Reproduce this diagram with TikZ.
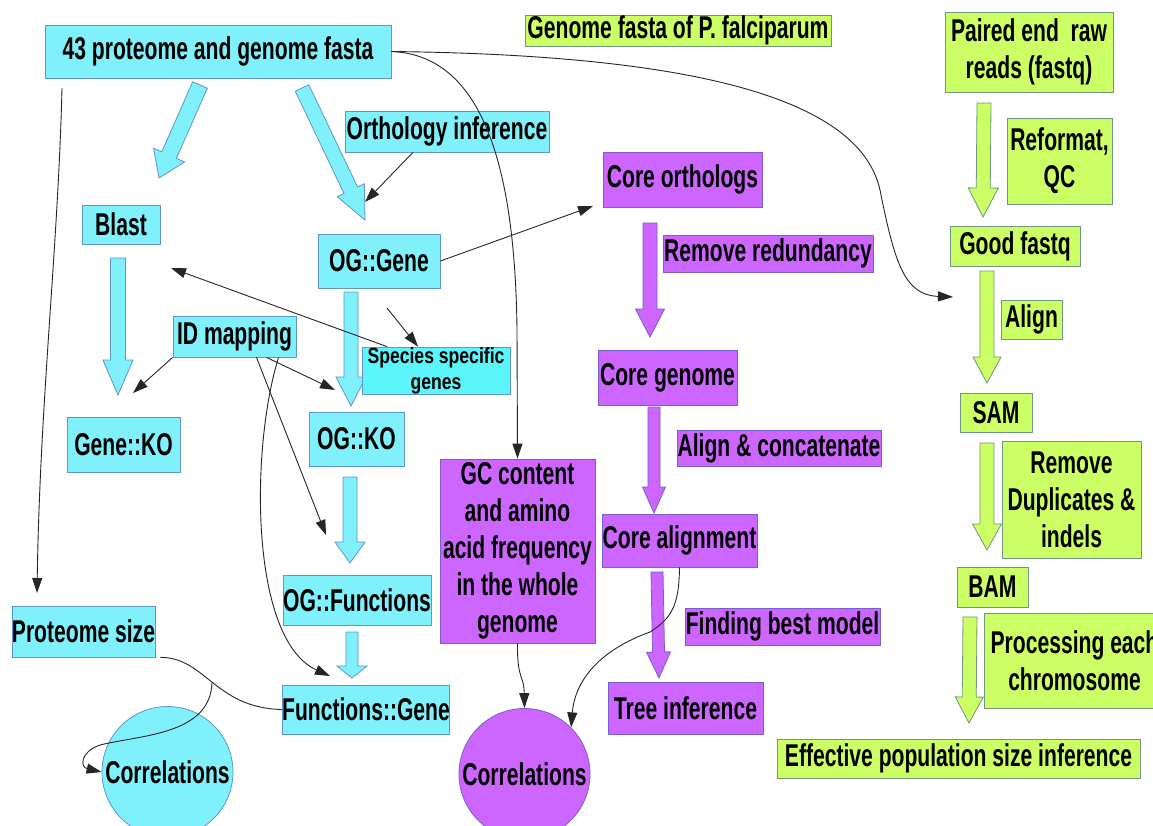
\documentclass[tikz,border=0pt]{standalone}
\usepackage{fontspec}
\setmainfont{Liberation Sans}[FakeStretch=0.67]
\newfontfamily\specfont{Liberation Sans}[FakeStretch=0.8]
\usetikzlibrary{calc,arrows.meta}
\definecolor{cyanfill}{RGB}{128,240,250}
\definecolor{cyanline}{RGB}{95,150,205}
\definecolor{specfill}{RGB}{92,246,250}
\definecolor{purpfill}{RGB}{204,102,255}
\definecolor{purpline}{RGB}{120,95,205}
\definecolor{grnfill}{RGB}{204,255,102}
\definecolor{grnline}{RGB}{110,150,130}
\newcommand{\blockarr}[6]{%
  \coordinate (ba-s) at #1; \coordinate (ba-t) at #2;
  \coordinate (ba-h) at ($(ba-t)!#5!(ba-s)$);
  \draw[#6] ($(ba-s)!#3!90:(ba-t)$) -- ($(ba-h)!#3!90:(ba-t)$) -- ($(ba-h)!#4!90:(ba-t)$) -- (ba-t)
    -- ($(ba-h)!#4!-90:(ba-t)$) -- ($(ba-h)!#3!-90:(ba-t)$) -- ($(ba-s)!#3!-90:(ba-t)$) -- cycle;
}
\tikzset{
  boxbase/.style={rectangle, inner sep=0pt, align=center, line width=0.8pt},
  cbox/.style={boxbase, draw=cyanline, fill=cyanfill},
  sbox/.style={boxbase, draw=cyanline, fill=specfill},
  pbox/.style={boxbase, draw=purpline, fill=purpfill},
  gbox/.style={boxbase, draw=grnline, fill=grnfill},
  cblk/.style={fill=cyanfill, draw=cyanline, line width=0.8pt},
  pblk/.style={fill=purpfill, draw=purpline, line width=0.8pt},
  gblk/.style={fill=grnfill, draw=grnline, line width=0.8pt},
  plainline/.style={line width=0.9pt, black!85},
  conn/.style={plainline, -{Triangle[length=15pt,width=10pt]}},
  sz/.style 2 args={minimum width=#1pt, minimum height=#2pt},
}
\begin{document}
\begin{tikzpicture}[x=1pt,y=-1pt,font=\fontsize{31.5}{37}\selectfont\bfseries]
\useasboundingbox (0,0) rectangle (1153,825);
\clip (0,0) rectangle (1153,825);
\fill[white] (0,0) rectangle (1153,825);

% block arrows
\blockarr{(200,85)}{(159,178)}{8pt}{17pt}{25pt}{cblk}
\blockarr{(302,88)}{(365,220)}{7.5pt}{15pt}{33pt}{cblk}
\blockarr{(118,258)}{(118,395)}{7.5pt}{15pt}{35pt}{cblk}
\blockarr{(351,292)}{(351,406)}{7pt}{15pt}{29pt}{cblk}
\blockarr{(350,477)}{(350,563)}{7pt}{15pt}{21pt}{cblk}
\blockarr{(352,632)}{(352,678)}{6pt}{15pt}{12pt}{cblk}
\blockarr{(650,223)}{(650,337)}{7pt}{14.5pt}{28pt}{pblk}
\blockarr{(654,407)}{(654,513)}{6pt}{11.5pt}{26pt}{pblk}
\blockarr{(657,572)}{(659,678)}{6pt}{12pt}{26pt}{pblk}
\blockarr{(984,103)}{(983,217)}{7pt}{15pt}{29pt}{gblk}
\blockarr{(987,271)}{(987,383)}{7pt}{14pt}{26pt}{gblk}
\blockarr{(987,443)}{(987,550)}{7pt}{14.5pt}{26pt}{gblk}
\blockarr{(970,617)}{(969,723)}{7pt}{14pt}{26pt}{gblk}

% nodes
\node[cbox, sz={346}{53}] (top) at (218,51.5) {43 proteome and genome fasta};
\node[gbox, sz={306}{31}] (gfp) at (678,30.5) {Genome fasta of P. falciparum};
\node[gbox, sz={168}{80}] (paired) at (1029,52) {Paired end\ \ raw\\reads (fastq)};
\node[cbox, sz={204}{41}] (orth) at (447,131.5) {Orthology inference};
\node[cbox, sz={78}{39}] (blast) at (121,224.5) {Blast};
\node[cbox, sz={122}{54}] (oggene) at (379,261) {OG::Gene};
\node[pbox, sz={159}{55}] (coreorth) at (682.5,179.5) {Core orthologs};
\node[gbox, sz={105}{86}] (reformat) at (1059.5,161) {Reformat,\\QC};
\node[gbox, sz={130}{40}] (goodfq) at (1015,246) {Good fastq};
\node[pbox, sz={210}{37}] (remred) at (768,253.5) {Remove redundancy};
\node[cbox, sz={123}{41}] (idmap) at (234.5,336.5) {ID mapping};
\node[sbox, sz={148}{47}, font=\specfont\fontsize{22}{26}\selectfont\bfseries] (species) at (436,370.5) {Species specific\\genes};
\node[gbox, sz={61}{39}] (align) at (1031.5,319.5) {Align};
\node[pbox, sz={139}{55}] (coregen) at (667.5,377.5) {Core genome};
\node[gbox, sz={72}{39}] (sam) at (996,412.5) {SAM};
\node[cbox, sz={113}{55}] (geneko) at (123.5,444.5) {Gene::KO};
\node[cbox, sz={95}{54}] (ogko) at (356.5,439) {OG::KO};
\node[pbox, sz={204}{36}] (alconc) at (779,448) {Align \& concatenate};
\node[gbox, sz={139}{117}] (remdup) at (1071.5,499.5) {Remove\\Duplicates \&\\indels};
\node[pbox, sz={155}{184}] (gc) at (517.5,551) {GC content\\and amino\\acid frequency\\in the whole\\genome};
\node[pbox, sz={155}{53}] (corealn) at (679.5,540.5) {Core alignment};
\node[gbox, sz={71}{40}] (bam) at (992.5,587) {BAM};
\node[cbox, sz={148}{50}] (ogfunc) at (357,600) {OG::Functions};
\node[cbox, sz={143}{51}] (protsize) at (83.5,631.5) {Proteome size};
\node[pbox, sz={195}{37}] (findbest) at (782.5,626.5) {Finding best model};
\node[gbox, sz={181}{95}] (proc) at (1074.5,660.5) {Processing each\\chromosome};
\node[pbox, sz={155}{52}] (tree) at (685.5,708) {Tree inference};
\node[cbox, sz={166}{49}] (funcgene) at (366,709.5) {Functions::Gene};
\node[gbox, sz={363}{39}] (effpop) at (958.5,758.5) {Effective population size inference};
\node[circle, draw=cyanline, fill=cyanfill, line width=0.8pt, inner sep=0pt, minimum size=131pt] (corr1) at (167.5,772) {\makebox[0pt]{Correlations}};
\node[circle, draw=purpline, fill=purpfill, line width=0.8pt, inner sep=0pt, minimum size=131pt] (corr2) at (524.5,774) {\makebox[0pt]{Correlations}};

% free ends
\coordinate (a-end) at (365,202);
\coordinate (b-end) at (953,297);
\coordinate (d0) at (62,88);
\coordinate (d1) at (37,593);
\coordinate (e-end) at (593,206);
\coordinate (f-end) at (171,268);
\coordinate (g0) at (387,308);
\coordinate (h-end) at (133,393);
\coordinate (i-end) at (335,390);
\coordinate (j-end) at (326,535);
\coordinate (k-end) at (330,676);
\coordinate (m0) at (212,683);

% connectors
\draw[conn] ([xshift=-34pt]orth.south) -- (a-end);
\draw[conn] (top.east) .. controls (700,55) and (860,100) .. (880,190) .. controls (895,265) and (905,295) .. (b-end);
\draw[conn] (top.east) .. controls (480,55) and (515,160) .. (517,330) -- (gc.north);
\draw[conn] (d0) .. controls (58,250) and (40,400) .. (d1);
\draw[conn] (oggene.east) -- (e-end);
\draw[conn] ([xshift=-49pt]species.north) -- (f-end);
\draw[conn] (g0) -- ([xshift=-18pt]species.north);
\draw[conn] (idmap.south west) -- (h-end);
\draw[conn] ([xshift=32pt]idmap.south) -- (i-end);
\draw[conn] ([xshift=22pt]idmap.south) -- (j-end);
\draw[conn] ([xshift=44pt]idmap.south) .. controls (250,450) and (250,640) .. (k-end);
\draw[plainline] ([xshift=5pt]protsize.south east) .. controls (205,657) and (215,708) .. (funcgene.west);
\draw[conn] (m0) .. controls (210,735) and (140,735) .. (100,745) .. controls (80,752) and (80,767) .. (corr1.west);
\draw[conn] (gc.south) .. controls (517,680) and (524,675) .. (corr2.north);
\draw[conn] (corealn.south) .. controls (679,605) and (672,618) .. (650,632) .. controls (600,650) and (575,680) .. (corr2.north east);
\end{tikzpicture}
\end{document}
